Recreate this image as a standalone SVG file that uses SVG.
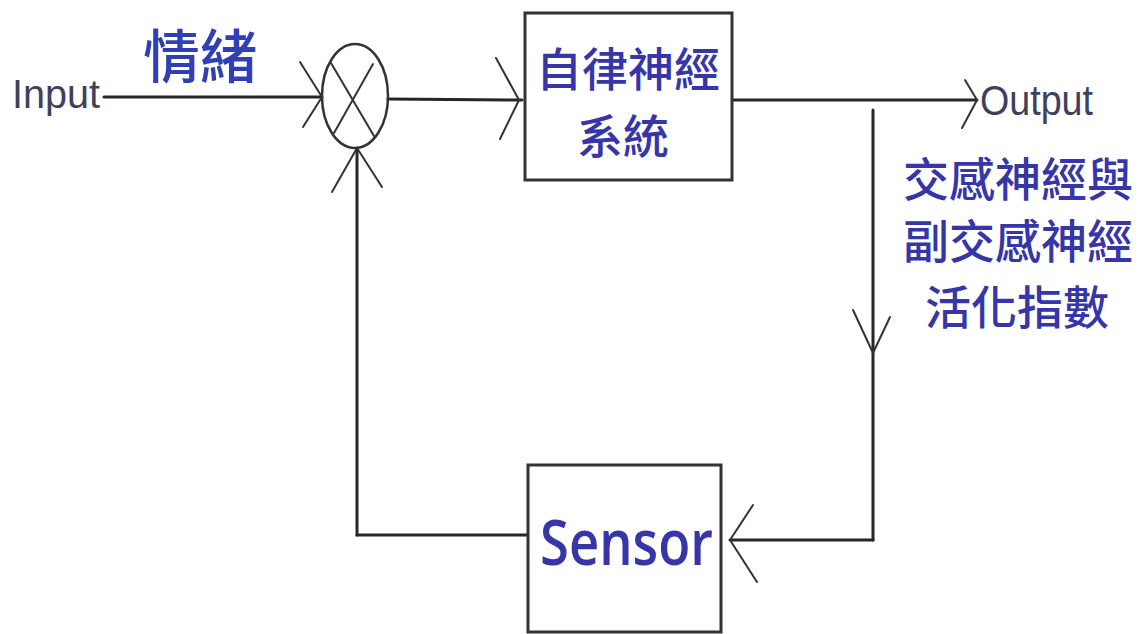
<svg xmlns="http://www.w3.org/2000/svg" width="1144" height="634" viewBox="0 0 1144 634">
<style>
.ln{stroke:#262626;stroke-width:3;fill:none;stroke-linecap:round;stroke-linejoin:round}
.ah{stroke:#333;stroke-width:2;fill:none;stroke-linecap:round;stroke-linejoin:round}
.box{fill:#ffffff;stroke:#333;stroke-width:3}
.cjk{font-family:"Noto Sans CJK TC","Noto Sans CJK SC",sans-serif;fill:#3636a8;font-size:46px;font-weight:500}
.lat{font-family:"Liberation Sans",Arial,sans-serif;fill:#40405e;font-size:40px}
</style>
<rect width="1144" height="634" fill="#ffffff"/>
<g id="connectors">
  <line class="ln" x1="104" y1="97" x2="322" y2="97"/>
  <polyline class="ah" points="300,62 322,97 303,127"/>
  <line class="ln" x1="388" y1="99" x2="522" y2="100"/>
  <polyline class="ah" points="496,58 519,100 500,139"/>
  <line class="ln" x1="732" y1="100" x2="977" y2="100"/>
  <polyline class="ah" points="965,80 977,100 962,128"/>
  <line class="ln" x1="873" y1="110" x2="873" y2="540"/>
  <polyline class="ah" points="853,310 873,353 890,317"/>
  <line class="ln" x1="873" y1="540" x2="730" y2="540"/>
  <polyline class="ah" points="753,505 730,540 757,582"/>
  <line class="ln" x1="528" y1="535" x2="357" y2="535"/>
  <line class="ln" x1="357" y1="535" x2="357" y2="148"/>
  <polyline class="ah" points="332,192 357,148 382,187"/>
</g>
<g id="input">
  <text class="lat" x="12" y="108" textLength="88" lengthAdjust="spacingAndGlyphs">Input</text>
  <text class="cjk" x="143" y="78" style="font-size:58px;fill:#3040b4" textLength="114" lengthAdjust="spacingAndGlyphs">情緒</text>
</g>
<g id="sum">
  <ellipse cx="355" cy="96" rx="33" ry="52" fill="none" stroke="#333" stroke-width="2.5"/>
  <line class="ah" x1="331" y1="63" x2="374" y2="136"/>
  <line class="ah" x1="373" y1="64" x2="334" y2="133"/>
</g>
<g id="ans">
  <rect class="box" x="525" y="13" width="207" height="167"/>
  <text class="cjk" x="628" y="86" text-anchor="middle">自律神經</text>
  <text class="cjk" x="623" y="153" text-anchor="middle">系統</text>
</g>
<g id="output">
  <text class="lat" x="980" y="115" style="font-size:42px" textLength="113" lengthAdjust="spacingAndGlyphs">Output</text>
  <text class="cjk" x="1018" y="196" text-anchor="middle">交感神經與</text>
  <text class="cjk" x="1018" y="258" text-anchor="middle">副交感神經</text>
  <text class="cjk" x="1017" y="324" text-anchor="middle">活化指數</text>
</g>
<g id="sensor">
  <rect class="box" x="528" y="465" width="193" height="167"/>
  <text x="540" y="565" style="font-family:'Open Sans','Noto Sans',sans-serif;font-size:64px;font-weight:600;fill:#3636a8" textLength="173" lengthAdjust="spacingAndGlyphs">Sensor</text>
</g>
</svg>
